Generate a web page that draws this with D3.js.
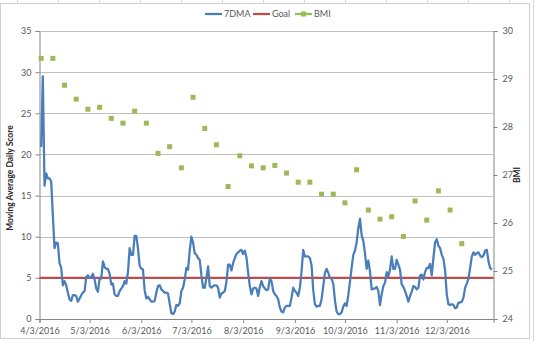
<!DOCTYPE html>
<html>
<head>
<meta charset="utf-8">
<script src="https://cdn.jsdelivr.net/npm/d3@7/dist/d3.min.js"></script>
<style>
  html, body { margin: 0; padding: 0; background: #ffffff; }
  svg { display: block; font-family: Lato, "Open Sans", sans-serif; }
</style>
</head>
<body>
<svg id="chart" width="536" height="341"></svg>
<script>
// Daily 7-day moving average score, starting 4/4/2016
const dmaStart = "2016-04-04";
const dma7 = [
  20.9, 29.5, 16.2, 17.7, 17.1, 17.1, 16.7, 12.6, 8.6, 9.3,
  9.2, 6.8, 6.2, 4.1, 4.6, 4.1, 3.2, 2.4, 2.2, 2.9,
  2.9, 2.8, 2.1, 2.5, 2.9, 3.2, 3.4, 5.1, 5.3, 5.0,
  5.1, 5.5, 4.8, 3.7, 3.3, 4.9, 4.9, 7.0, 6.3, 6.1,
  6.1, 5.5, 4.2, 4.3, 3.0, 2.8, 2.8, 3.4, 3.7, 4.0,
  4.6, 4.3, 5.7, 8.6, 7.8, 7.8, 10.1, 10.1, 8.6, 6.5,
  6.1, 6.0, 3.5, 2.5, 2.7, 2.4, 2.1, 2.1, 2.2, 3.2,
  4.0, 4.1, 3.6, 3.4, 3.2, 3.2, 3.1, 1.9, 0.7, 0.6,
  0.9, 1.7, 1.6, 1.9, 3.4, 3.8, 4.8, 6.2, 6.0, 8.3,
  10.0, 9.3, 8.0, 7.8, 7.4, 7.2, 5.3, 3.8, 3.8, 5.0,
  6.4, 4.0, 3.8, 4.0, 4.1, 4.1, 3.8, 2.6, 3.1, 3.2,
  3.4, 4.5, 6.6, 6.6, 5.9, 6.8, 7.4, 7.9, 8.1, 8.3,
  8.4, 7.9, 8.3, 7.5, 5.6, 4.0, 3.0, 3.7, 3.8, 3.7,
  2.8, 3.9, 4.6, 4.0, 3.7, 3.5, 3.6, 4.9, 4.6, 3.4,
  3.0, 2.8, 2.4, 1.4, 0.9, 0.8, 1.4, 1.6, 1.6, 1.6,
  2.6, 3.8, 3.4, 3.2, 2.8, 3.8, 5.8, 8.4, 7.6, 7.6,
  7.6, 7.4, 6.5, 3.5, 1.8, 1.5, 1.6, 1.6, 2.4, 4.0,
  5.6, 6.1, 5.6, 5.0, 4.9, 4.3, 2.3, 0.9, 0.6, 0.6,
  0.8, 1.5, 1.9, 1.6, 2.9, 4.5, 6.2, 7.8, 8.3, 9.3,
  11.0, 12.2, 10.2, 9.5, 8.0, 6.1, 7.1, 5.8, 3.6, 3.7,
  3.7, 3.9, 3.4, 1.7, 3.0, 4.0, 4.4, 5.7, 5.2, 6.0,
  7.6, 6.1, 6.1, 7.2, 6.6, 6.0, 4.2, 3.9, 3.4, 2.8,
  2.1, 2.8, 3.3, 4.0, 3.9, 3.6, 3.8, 5.3, 5.4, 4.8,
  5.7, 6.2, 6.2, 6.7, 5.3, 7.4, 9.3, 9.7, 8.9, 8.6,
  7.8, 7.3, 5.9, 3.0, 1.8, 1.7, 1.8, 1.7, 1.3, 1.4,
  2.0, 2.0, 2.1, 2.6, 3.8, 4.3, 4.9, 6.2, 7.6, 8.1,
  7.8, 8.0, 8.1, 7.7, 7.5, 7.7, 8.3, 8.4, 7.0, 6.2,
  6.0
];

// Weekly BMI readings, starting 4/4/2016
const bmiStart = "2016-04-04";
const bmi = [
  29.43, 29.43, 28.87, 28.58, 28.37, 28.41, 28.18, 28.08, 28.33, 28.08,
  27.45, 27.59, 27.15, 28.62, 27.97, 27.63, 26.76, 27.40, 27.19, 27.15,
  27.20, 27.04, 26.85, 26.85, 26.60, 26.60, 26.42, 27.11, 26.27, 26.08,
  26.13, 25.72, 26.46, 26.06, 26.67, 26.27, 25.57
];

const goal = 5;

const xTickLabels = ["4/3/2016", "5/3/2016", "6/3/2016", "7/3/2016", "8/3/2016",
                     "9/3/2016", "10/3/2016", "11/3/2016", "12/3/2016"];
const leftTicks = [0, 5, 10, 15, 20, 25, 30, 35];
const rightTicks = [24, 25, 26, 27, 28, 29, 30];
const seriesNames = ["7DMA", "Goal", "BMI"];
const colors = { dma: "#4A7EBB", goal: "#BE4B48", bmi: "#9BBB59" };

const parseDay = d3.timeParse("%Y-%m-%d");
const parseTick = d3.timeParse("%m/%d/%Y");

const dmaData = dma7.map((v, i) => ({ date: d3.timeDay.offset(parseDay(dmaStart), i), value: v }));
const bmiData = bmi.map((v, i) => ({ date: d3.timeDay.offset(parseDay(bmiStart), 7 * i), value: v }));
const tickDates = xTickLabels.map(parseTick);

const svg = d3.select("#chart");
const plot = { left: 39.5, right: 493.5, top: 31, bottom: 319 };

// Worksheet cell borders peeking out around the chart object
const sheet = svg.append("g").attr("stroke", "#DADADA").attr("stroke-width", 1);
d3.range(17.5, 536, 41).forEach(cx => {
  sheet.append("line").attr("x1", cx).attr("x2", cx).attr("y1", 0).attr("y2", 4);
});
sheet.append("line").attr("x1", 533.5).attr("x2", 533.5).attr("y1", 0).attr("y2", 341);

// Chart area
svg.append("rect")
  .attr("x", 0.5).attr("y", 3.5).attr("width", 529).attr("height", 335)
  .attr("fill", "#ffffff").attr("stroke", "#D0D0D0");

const x = d3.scaleTime()
  .domain([parseDay("2016-04-03"), parseDay("2016-12-31")])
  .range([plot.left, plot.right]);
const y = d3.scaleLinear().domain([0, 35]).range([plot.bottom, plot.top]);
const y2 = d3.scaleLinear().domain([24, 30]).range([plot.bottom, plot.top]);

// Horizontal gridlines
svg.append("g")
  .selectAll("line")
  .data(leftTicks.filter(t => t > 0))
  .join("line")
  .attr("x1", plot.left).attr("x2", plot.right)
  .attr("y1", d => Math.round(y(d)) + 0.5).attr("y2", d => Math.round(y(d)) + 0.5)
  .attr("stroke", "#C0C0C0").attr("stroke-width", 1);

const axisColor = "#868686";
const labelColor = "#595959";

// Left axis
const gL = svg.append("g").attr("transform", `translate(${plot.left},0)`)
  .call(d3.axisLeft(y).tickValues(leftTicks).tickSize(4).tickPadding(4).tickFormat(d3.format("d")));
// Right axis
const gR = svg.append("g").attr("transform", `translate(${plot.right},0)`)
  .call(d3.axisRight(y2).tickValues(rightTicks).tickSize(4).tickPadding(5).tickFormat(d3.format("d")));
// Bottom axis
const gB = svg.append("g").attr("transform", `translate(0,${plot.bottom})`)
  .call(d3.axisBottom(x).tickValues(tickDates).tickSize(4).tickPadding(5)
    .tickFormat((d, i) => xTickLabels[i]));

[gL, gR, gB].forEach(g => {
  g.select(".domain").attr("stroke", axisColor);
  g.selectAll(".tick line").attr("stroke", axisColor);
  g.selectAll(".tick text").attr("fill", labelColor)
    .attr("font-size", 9).attr("font-family", "Lato, sans-serif");
});

// Goal line
svg.append("line")
  .attr("x1", plot.left).attr("x2", plot.right)
  .attr("y1", y(goal)).attr("y2", y(goal))
  .attr("stroke", colors.goal).attr("stroke-width", 2.25);

// 7DMA line
svg.append("path")
  .datum(dmaData)
  .attr("fill", "none")
  .attr("stroke", colors.dma)
  .attr("stroke-width", 2.25)
  .attr("stroke-linejoin", "round")
  .attr("d", d3.line().x(d => x(d.date)).y(d => y(d.value)));

// BMI markers
svg.append("g")
  .selectAll("rect")
  .data(bmiData)
  .join("rect")
  .attr("x", d => x(d.date) - 2.5).attr("y", d => y2(d.value) - 2.5)
  .attr("width", 5).attr("height", 5)
  .attr("fill", colors.bmi);

// Axis titles
svg.append("text")
  .attr("transform", "translate(13,178) rotate(-90)")
  .attr("text-anchor", "middle")
  .attr("font-size", 8.5).attr("font-weight", "bold").attr("fill", "#262626")
  .text("Moving Average Daily Score");
svg.append("text")
  .attr("transform", "translate(520,175) rotate(-90)")
  .attr("text-anchor", "middle")
  .attr("font-size", 8.5).attr("font-weight", "bold").attr("fill", "#262626")
  .text("BMI");

// Legend
const legend = svg.append("g").attr("transform", "translate(205,14)");
const legendItems = [
  { name: seriesNames[0], color: colors.dma, marker: false, x: 0 },
  { name: seriesNames[1], color: colors.goal, marker: false, x: 48 },
  { name: seriesNames[2], color: colors.bmi, marker: true, x: 90 }
];
const li = legend.selectAll("g").data(legendItems).join("g")
  .attr("transform", d => `translate(${d.x},0)`);
li.append("line").attr("x1", 0).attr("x2", 17).attr("y1", 0).attr("y2", 0)
  .attr("stroke", d => d.color).attr("stroke-width", 2.25);
li.filter(d => d.marker).append("rect")
  .attr("x", 6).attr("y", -2.5).attr("width", 5).attr("height", 5)
  .attr("fill", d => d.color);
li.append("text").attr("x", 19).attr("y", 3.2)
  .attr("font-size", 9).attr("fill", labelColor)
  .text(d => d.name);
</script>
</body>
</html>
